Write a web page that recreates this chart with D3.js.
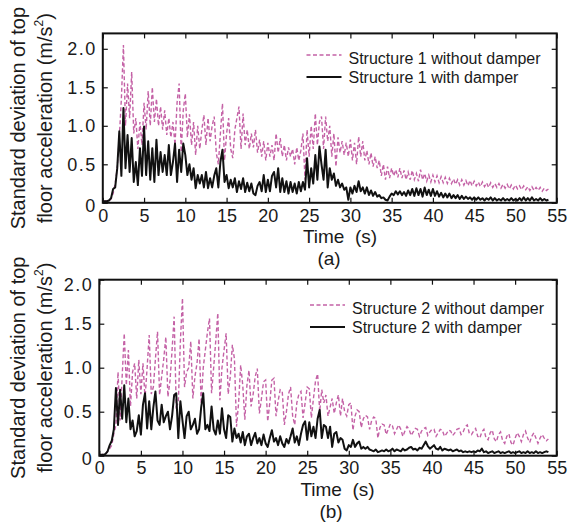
<!DOCTYPE html>
<html>
<head>
<meta charset="utf-8">
<script src="https://d3js.org/d3.v7.min.js"></script>
<style>
  body { margin: 0; background: #fff; }
  text { font-family: "Liberation Sans", Arial, sans-serif; fill: #1a1a1a; }
</style>
</head>
<body>
<script>
// records are sampled every 0.25 s, starting at t = 0
const step = 0.25;

const xTicks = [0, 5, 10, 15, 20, 25, 30, 35, 40, 45, 50, 55];
const yTicks = [0, 0.5, 1.0, 1.5, 2.0];

const legendA = ["Structure 1 without damper", "Structure 1 with damper"];
const legendB = ["Structure 2 without damper", "Structure 2 with damper"];
const panelNames = ["(a)", "(b)"];

// structure 1, without damper (m/s^2), one row = 5 s
const pinkA = [
  0.02,0.02,0.03,0.03,0.05,0.12,0.25,0.45,0.85,1.35,2.05,1.0,1.55,1.1,1.7,0.9,1.1,0.7,1.05,0.75,
  1.3,0.95,1.45,1.0,1.5,1.05,1.35,1.0,1.25,0.95,1.2,0.88,1.1,0.85,1.05,0.75,1.3,1.55,0.66,1.2,
  1.42,0.85,1.15,0.75,1.05,0.62,1.0,0.7,0.95,1.14,0.75,1.1,0.8,1.0,1.12,0.65,0.5,0.9,1.29,0.55,
  0.9,1.1,0.7,0.58,0.95,1.1,1.25,0.7,1.16,0.75,0.95,0.7,0.9,0.72,0.95,0.65,0.82,0.6,0.8,0.55,
  0.78,0.6,0.75,0.55,0.9,0.65,0.84,0.6,0.75,0.55,0.72,0.6,0.7,0.5,0.72,0.55,0.68,0.9,0.3,0.95,
  0.6,1.0,0.7,1.16,0.75,1.05,1.12,0.7,1.12,0.8,1.0,0.6,0.9,0.47,0.85,0.65,0.8,0.62,0.78,0.6,
  0.82,0.55,0.78,0.5,0.86,0.6,0.8,0.55,0.68,0.5,0.65,0.47,0.6,0.45,0.55,0.35,0.5,0.3,0.47,0.32,
  0.45,0.35,0.43,0.33,0.45,0.32,0.42,0.3,0.4,0.3,0.42,0.3,0.38,0.28,0.43,0.3,0.38,0.28,0.36,0.27,
  0.36,0.27,0.35,0.26,0.34,0.26,0.33,0.25,0.32,0.25,0.31,0.24,0.3,0.23,0.3,0.23,0.29,0.22,0.29,0.22,
  0.28,0.22,0.27,0.21,0.27,0.21,0.26,0.2,0.26,0.2,0.25,0.2,0.25,0.19,0.24,0.19,0.24,0.18,0.23,0.18,
  0.23,0.18,0.22,0.17,0.22,0.17,0.21,0.16,0.21,0.16,0.2,0.16,0.2,0.15,0.19,0.16,0.18
];

// structure 1, with damper
const blackA = [
  0.02,0.02,0.02,0.03,0.06,0.18,0.2,0.45,0.93,0.35,1.23,0.45,0.88,0.4,0.84,0.27,0.53,0.23,0.71,0.35,
  0.99,0.36,0.8,0.3,0.71,0.27,0.82,0.36,0.66,0.4,0.62,0.36,0.75,0.36,0.53,0.77,0.27,0.69,0.4,0.77,
  0.62,0.36,0.5,0.3,0.45,0.19,0.36,0.25,0.36,0.2,0.4,0.19,0.32,0.2,0.35,0.45,0.2,0.53,0.69,0.27,
  0.36,0.19,0.3,0.2,0.32,0.14,0.28,0.18,0.32,0.14,0.26,0.15,0.25,0.12,0.1,0.22,0.27,0.15,0.36,0.14,
  0.3,0.15,0.35,0.4,0.2,0.45,0.14,0.32,0.14,0.28,0.12,0.27,0.14,0.25,0.12,0.27,0.15,0.27,0.17,0.58,
  0.2,0.45,0.25,0.62,0.3,0.73,0.5,0.3,0.69,0.2,0.45,0.3,0.38,0.22,0.3,0.2,0.25,0.17,0.2,0.04,
  0.2,0.12,0.22,0.14,0.28,0.15,0.2,0.12,0.2,0.1,0.16,0.09,0.14,0.08,0.1,0.06,0.07,0.04,0.03,0.08,
  0.12,0.1,0.15,0.11,0.15,0.1,0.14,0.09,0.16,0.1,0.18,0.09,0.19,0.1,0.18,0.08,0.2,0.1,0.17,0.09,
  0.18,0.09,0.15,0.08,0.13,0.07,0.12,0.07,0.12,0.06,0.1,0.06,0.1,0.05,0.09,0.05,0.08,0.05,0.07,0.04,
  0.07,0.04,0.07,0.04,0.06,0.03,0.06,0.04,0.07,0.03,0.06,0.03,0.05,0.03,0.06,0.03,0.05,0.03,0.06,0.03,
  0.05,0.03,0.06,0.03,0.07,0.03,0.06,0.03,0.07,0.03,0.05,0.03,0.06,0.03,0.05,0.03,0.04
];

// structure 2, without damper
const pinkB = [
  0.01,0.01,0.02,0.02,0.05,0.08,0.12,0.25,0.35,0.95,0.4,0.9,1.39,0.8,1.2,0.56,0.95,1.05,0.65,1.09,
  0.7,1.05,0.65,1.0,1.37,0.7,0.78,1.1,1.41,0.69,0.9,1.1,1.35,0.67,0.85,1.2,1.58,0.56,0.6,1.3,
  1.79,0.78,0.95,1.0,1.3,0.65,0.9,1.05,1.33,0.59,1.0,1.2,1.4,1.56,0.71,1.0,1.3,1.62,0.63,1.0,
  1.2,1.39,0.7,0.9,1.26,1.1,0.33,0.6,1.03,0.8,0.41,0.8,0.97,0.56,0.7,0.9,0.99,0.48,0.65,0.84,
  0.86,0.39,0.6,0.86,0.88,0.45,0.62,0.75,0.73,0.35,0.5,0.7,0.78,0.45,0.35,0.6,0.7,0.73,0.43,0.6,
  0.78,0.76,0.43,0.65,0.85,0.93,0.5,0.75,0.6,0.69,0.45,0.55,0.65,0.48,0.6,0.69,0.45,0.65,0.5,0.45,
  0.58,0.6,0.29,0.45,0.52,0.5,0.32,0.42,0.46,0.44,0.3,0.4,0.44,0.42,0.2,0.32,0.36,0.35,0.24,0.3,
  0.36,0.34,0.25,0.3,0.35,0.3,0.22,0.28,0.33,0.3,0.23,0.27,0.31,0.3,0.22,0.28,0.31,0.32,0.23,0.27,
  0.3,0.3,0.22,0.26,0.3,0.29,0.22,0.25,0.29,0.28,0.23,0.26,0.3,0.31,0.24,0.27,0.33,0.35,0.25,0.24,
  0.28,0.31,0.22,0.2,0.27,0.3,0.2,0.18,0.26,0.29,0.19,0.16,0.24,0.27,0.17,0.14,0.22,0.25,0.15,0.12,
  0.2,0.26,0.22,0.16,0.24,0.28,0.2,0.15,0.22,0.26,0.2,0.14,0.2,0.24,0.2,0.17,0.19
];

// structure 2, with damper
const blackB = [
  0.01,0.01,0.01,0.02,0.05,0.12,0.17,0.3,0.77,0.35,0.75,0.42,0.8,0.38,0.65,0.3,0.4,0.22,0.28,0.46,
  0.24,0.58,0.71,0.31,0.62,0.3,0.55,0.73,0.4,0.35,0.58,0.38,0.45,0.5,0.3,0.45,0.69,0.71,0.2,0.62,
  0.4,0.2,0.45,0.5,0.3,0.35,0.42,0.25,0.3,0.55,0.71,0.3,0.35,0.28,0.56,0.3,0.24,0.4,0.25,0.54,
  0.3,0.2,0.46,0.44,0.16,0.31,0.2,0.25,0.15,0.27,0.12,0.22,0.25,0.12,0.2,0.26,0.14,0.2,0.12,0.24,
  0.14,0.1,0.2,0.29,0.16,0.2,0.12,0.22,0.14,0.1,0.19,0.14,0.22,0.31,0.15,0.22,0.12,0.25,0.35,0.39,
  0.18,0.38,0.22,0.33,0.2,0.42,0.52,0.2,0.35,0.33,0.2,0.33,0.1,0.25,0.27,0.15,0.2,0.18,0.08,0.06,
  0.12,0.1,0.18,0.1,0.14,0.16,0.08,0.1,0.08,0.1,0.07,0.06,0.05,0.07,0.04,0.05,0.06,0.05,0.07,0.05,
  0.06,0.08,0.05,0.07,0.06,0.05,0.08,0.06,0.07,0.09,0.1,0.07,0.08,0.06,0.09,0.08,0.12,0.16,0.11,0.08,
  0.1,0.12,0.08,0.07,0.1,0.06,0.08,0.07,0.06,0.07,0.05,0.06,0.07,0.05,0.06,0.04,0.05,0.04,0.05,0.04,
  0.05,0.04,0.06,0.05,0.08,0.04,0.05,0.03,0.04,0.05,0.03,0.04,0.05,0.03,0.04,0.03,0.04,0.05,0.03,0.04,
  0.03,0.04,0.05,0.03,0.04,0.03,0.05,0.03,0.04,0.03,0.05,0.03,0.04,0.03,0.04,0.05,0.04
];

const pink = "#c462a6";
const width = 568, height = 525;

const svg = d3.select("body")
  .append("svg")
  .attr("width", width)
  .attr("height", height);

const fmt = d => d === 0 ? "0" : d3.format(".1f")(d);

function drawPanel(p) {
  const x = d3.scaleLinear().domain([0, 55]).range([p.left, p.right]);
  const y = d3.scaleLinear().domain([0, p.yMax]).range([p.bottom, p.top]);
  const g = svg.append("g");

  const line = d3.line()
    .x((d, i) => x(i * step))
    .y(d => y(d));

  g.append("path")
    .datum(p.without)
    .attr("d", line)
    .attr("fill", "none")
    .attr("stroke", pink)
    .attr("stroke-width", 1.4)
    .attr("stroke-dasharray", "4,2.5");

  g.append("path")
    .datum(p.with)
    .attr("d", line)
    .attr("fill", "none")
    .attr("stroke", "#111")
    .attr("stroke-width", 2)
    .attr("stroke-linejoin", "round");

  // inward ticks on all four sides
  const bottom = g.append("g")
    .attr("transform", "translate(0," + p.bottom + ")")
    .call(d3.axisBottom(x).tickValues(xTicks).tickSize(-5).tickPadding(6).tickFormat(d3.format("d")));
  const left = g.append("g")
    .attr("transform", "translate(" + p.left + ",0)")
    .call(d3.axisLeft(y).tickValues(yTicks).tickSize(-5).tickPadding(6).tickFormat(fmt));
  g.append("g")
    .attr("transform", "translate(0," + p.top + ")")
    .call(d3.axisTop(x).tickValues(xTicks).tickSize(-5).tickFormat(""));
  g.append("g")
    .attr("transform", "translate(" + p.right + ",0)")
    .call(d3.axisRight(y).tickValues(yTicks).tickSize(-5).tickFormat(""));

  g.selectAll(".domain").remove();
  g.selectAll(".tick line").attr("stroke", "#111").attr("stroke-width", 1.2);
  g.selectAll(".tick text")
    .attr("font-family", "Liberation Sans, Arial, sans-serif")
    .attr("font-size", 18)
    .attr("fill", "#1a1a1a");
  left.selectAll(".tick text")
    .attr("letter-spacing", 1.5)
    .attr("dy", d => d === 0 ? "0.5em" : (d === p.yMax ? "0.6em" : "0.32em"));

  g.append("rect")
    .attr("x", p.left)
    .attr("y", p.top)
    .attr("width", p.right - p.left)
    .attr("height", p.bottom - p.top)
    .attr("fill", "none")
    .attr("stroke", "#111")
    .attr("stroke-width", 2);

  // legend
  const lg = g.append("g");
  lg.append("line")
    .attr("x1", p.legX).attr("x2", p.legX + 35)
    .attr("y1", p.legY - 3).attr("y2", p.legY - 3)
    .attr("stroke", pink).attr("stroke-width", 1.4)
    .attr("stroke-dasharray", "4,2.5");
  lg.append("line")
    .attr("x1", p.legX).attr("x2", p.legX + 35)
    .attr("y1", p.legY + 19).attr("y2", p.legY + 19)
    .attr("stroke", "#111").attr("stroke-width", 2);
  lg.selectAll("text")
    .data(p.names)
    .enter()
    .append("text")
    .attr("x", p.legX + 42)
    .attr("y", (d, i) => p.legY + 5.5 + i * 19)
    .attr("font-size", 16)
    .text(d => d);

  // axis titles
  const cy = (p.top + p.bottom) / 2;
  g.append("text")
    .attr("transform", "translate(25," + cy + ") rotate(-90)")
    .attr("text-anchor", "middle")
    .attr("font-size", 20)
    .text("Standard deviation of top");
  const t2 = g.append("text")
    .attr("transform", "translate(51.5," + cy + ") rotate(-90)")
    .attr("text-anchor", "middle")
    .attr("font-size", 20);
  t2.append("tspan").text("floor acceleration (m/s");
  t2.append("tspan").attr("font-size", 12).attr("dy", -9).text("2");
  t2.append("tspan").attr("dy", 9).text(")");

  g.append("text")
    .attr("x", p.timeX)
    .attr("y", p.bottom + 40)
    .attr("text-anchor", "middle")
    .attr("font-size", 19)
    .attr("xml:space", "preserve")
    .text("Time  (s)");
  g.append("text")
    .attr("x", p.nameX)
    .attr("y", p.bottom + 62)
    .attr("text-anchor", "middle")
    .attr("font-size", 19)
    .text(p.label);
}

drawPanel({
  left: 102.8, right: 556.7, top: 33.4, bottom: 202.8, yMax: 2.2,
  without: pinkA, with: blackA, names: legendA, label: panelNames[0],
  legX: 306.5, legY: 58, timeX: 340, nameX: 329
});

drawPanel({
  left: 99.3, right: 556.7, top: 279.7, bottom: 455.7, yMax: 2.0,
  without: pinkB, with: blackB, names: legendB, label: panelNames[1],
  legX: 310, legY: 308, timeX: 337.5, nameX: 331
});
</script>
</body>
</html>
